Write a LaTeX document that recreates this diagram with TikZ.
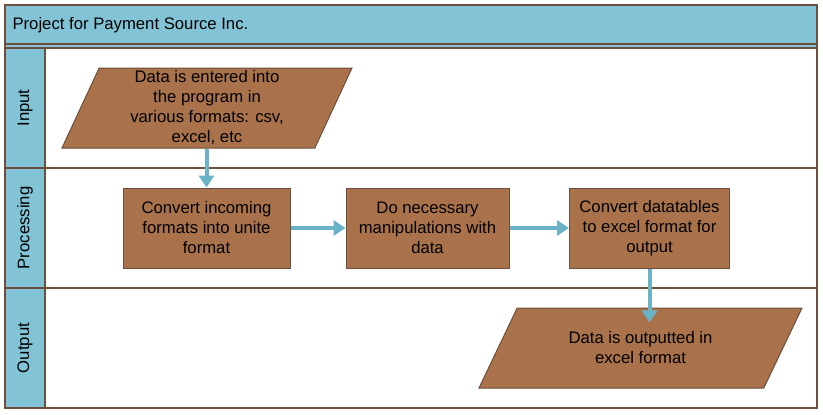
\documentclass[tikz,border=0pt]{standalone}
\usepackage{fontspec}
\setmainfont{Liberation Sans}
\usetikzlibrary{shapes.geometric,arrows.meta,positioning}
\definecolor{laneblue}{HTML}{82C4D5}
\definecolor{boxbrown}{HTML}{A9724A}
\definecolor{edgebrown}{HTML}{6E4E3C}
\definecolor{arrowblue}{HTML}{6AB3C7}
\tikzset{
  procbox/.style={draw=edgebrown, fill=boxbrown, line width=1pt, minimum height=80pt, align=center, inner sep=0pt},
  iobox/.style={trapezium, trapezium stretches body,
    draw=edgebrown, fill=boxbrown, line width=1pt, align=center, inner xsep=0pt, minimum height=80pt},
  flow/.style={draw=arrowblue, line width=4pt, -{Triangle[width=15pt,length=12pt]}},
  lane/.style={draw=edgebrown, line width=1.2pt}
}
\begin{document}
\begin{tikzpicture}[x=1pt, y=-1pt, font=\fontsize{16.7}{20}\selectfont]
  \useasboundingbox (0,0) rectangle (823,415);
  % title bar and lane column
  \fill[laneblue] (5,5) rectangle (817,48);
  \fill[laneblue] (5,48) rectangle (45,408);
  \draw[lane] (5,5) rectangle (817,408);
  \draw[lane] (5,44) -- (817,44);
  \draw[lane] (5,48) -- (817,48);
  \draw[lane] (45,48) -- (45,408);
  \draw[lane] (5,168) -- (817,168);
  \draw[lane] (5,288) -- (817,288);
  \node[anchor=west] (title) at (9,25) {Project for Payment Source Inc.};
  \node[rotate=90] (inlane) at (25,108) {Input};
  \node[rotate=90] (proclane) at (25,228) {Processing};
  \node[rotate=90] (outlane) at (25,348) {Output};

  % shapes
  \node[iobox, minimum width=290pt, inner ysep=2pt,
    trapezium left angle=64.6, trapezium right angle=115.4] (in) at (207,108)
    {Data is entered into\\the program in\\various formats: csv,\\excel, etc};
  \node[procbox, minimum width=167pt] (conv) at (206.5,228)
    {Convert incoming\\formats into unite\\format};
  \node[procbox, minimum width=163pt] (manip) at (427.5,228)
    {Do necessary\\manipulations with\\data};
  \node[procbox, minimum width=160pt] (excel) at (649.5,228)
    {Convert datatables\\to excel format for\\output};
  \node[iobox, minimum width=323pt, inner ysep=22pt,
    trapezium left angle=63.4, trapezium right angle=116.6] (out) at (640.5,348)
    {Data is outputted in\\excel format};

  % flow
  \draw[flow] (in.south -| conv.north) -- (conv.north);
  \draw[flow] (conv.east) -- (manip.west);
  \draw[flow] (manip.east) -- (excel.west);
  \draw[flow, shorten >=-15pt] (excel.south) -- (excel.south |- out.north);
\end{tikzpicture}
\end{document}
